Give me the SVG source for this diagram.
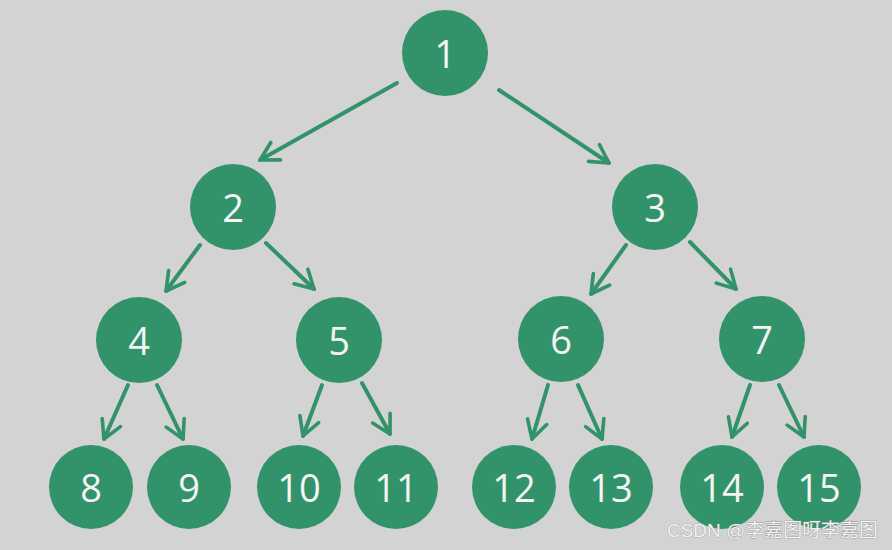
<svg xmlns="http://www.w3.org/2000/svg" width="892" height="550" viewBox="0 0 892 550">
<defs>
<style>
.node circle{fill:#32936a;}
.node text{fill:#f4f4f4;font-family:"Open Sans","DejaVu Sans",sans-serif;font-size:38px;text-anchor:middle;dominant-baseline:central;}
.edge{stroke:#32936a;stroke-width:4;stroke-linecap:round;fill:none;marker-end:url(#ah);}
.wm{font-family:"Liberation Sans","Noto Sans CJK SC",sans-serif;font-size:19px;fill:#f2f2f2;stroke:#8a8a8a;stroke-width:0.6;paint-order:stroke;}
</style>
<marker id="ah" viewBox="0 0 12 12" refX="10" refY="6" markerWidth="6" markerHeight="6" orient="auto" markerUnits="strokeWidth">
<path d="M1,1 L10,6 L1,11" fill="none" stroke="#32936a" stroke-width="1.8" stroke-linecap="round" stroke-linejoin="round"/>
</marker>
</defs>
<rect width="892" height="550" fill="#d3d3d3"/>
<g id="connectors">
<line class="edge" x1="397" y1="83" x2="260" y2="160"/>
<line class="edge" x1="499" y1="90" x2="609" y2="163"/>
<line class="edge" x1="200" y1="245" x2="166" y2="291"/>
<line class="edge" x1="266" y1="243" x2="314" y2="289"/>
<line class="edge" x1="626" y1="245" x2="591" y2="294"/>
<line class="edge" x1="690" y1="242" x2="736" y2="289"/>
<line class="edge" x1="128" y1="385" x2="104" y2="439"/>
<line class="edge" x1="157" y1="385" x2="183" y2="439"/>
<line class="edge" x1="322" y1="385" x2="303" y2="436"/>
<line class="edge" x1="362" y1="383" x2="390" y2="434"/>
<line class="edge" x1="548" y1="385" x2="532" y2="439"/>
<line class="edge" x1="578" y1="385" x2="602" y2="439"/>
<line class="edge" x1="750" y1="385" x2="732" y2="437"/>
<line class="edge" x1="779" y1="385" x2="804" y2="437"/>
</g>
<g id="n1" class="node"><circle cx="445" cy="53" r="43"/><text x="445" y="53">1</text></g>
<g id="n2" class="node"><circle cx="233" cy="207" r="43"/><text x="233" y="207">2</text></g>
<g id="n3" class="node"><circle cx="655" cy="207" r="43"/><text x="655" y="207">3</text></g>
<g id="n4" class="node"><circle cx="139" cy="340" r="43"/><text x="139" y="340">4</text></g>
<g id="n5" class="node"><circle cx="339" cy="340" r="43"/><text x="339" y="340">5</text></g>
<g id="n6" class="node"><circle cx="561" cy="339" r="43"/><text x="561" y="339">6</text></g>
<g id="n7" class="node"><circle cx="762" cy="339" r="43"/><text x="762" y="339">7</text></g>
<g id="n8" class="node"><circle cx="91" cy="487" r="42"/><text x="91" y="487">8</text></g>
<g id="n9" class="node"><circle cx="189" cy="487" r="42"/><text x="189" y="487">9</text></g>
<g id="n10" class="node"><circle cx="299" cy="487" r="42"/><text x="299" y="487">10</text></g>
<g id="n11" class="node"><circle cx="396" cy="487" r="42"/><text x="396" y="487">11</text></g>
<g id="n12" class="node"><circle cx="514" cy="487" r="42"/><text x="514" y="487">12</text></g>
<g id="n13" class="node"><circle cx="611" cy="487" r="42"/><text x="611" y="487">13</text></g>
<g id="n14" class="node"><circle cx="722" cy="487" r="42"/><text x="722" y="487">14</text></g>
<g id="n15" class="node"><circle cx="819" cy="487" r="42"/><text x="819" y="487">15</text></g>
<text class="wm" x="667" y="537" textLength="211" lengthAdjust="spacingAndGlyphs">CSDN @李嘉图呀李嘉图</text>
</svg>
